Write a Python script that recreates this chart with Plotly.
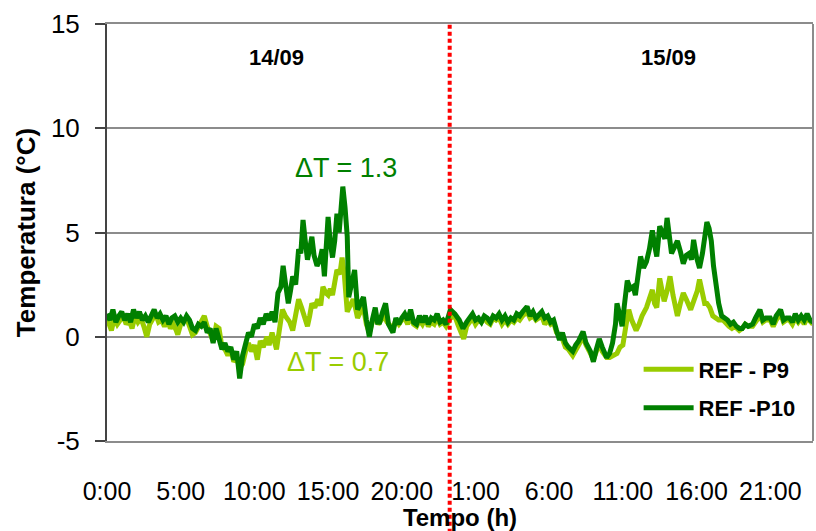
import plotly.graph_objects as go

# Temperature difference readings, two sensors, 14/09 - 15/09 (hours since 14/09 0:00)
hours_p9 = [
    0.0, 0.2, 0.3, 0.5, 0.7, 0.9, 1.1, 1.3, 1.5, 1.7, 1.9, 2.1, 2.3, 2.5, 2.7, 2.9,
    3.1, 3.3, 3.5, 3.7, 3.9, 4.1, 4.3, 4.5, 4.7, 4.8, 5.0, 5.2, 5.4, 5.6, 5.8, 6.0,
    6.2, 6.4, 6.6, 6.8, 7.0, 7.2, 7.4, 7.6, 7.8, 8.0, 8.2, 8.4, 8.6, 8.8, 9.0, 9.2,
    9.4, 9.6, 9.8, 10.0, 10.2, 10.4, 10.6, 10.85, 11.0, 11.2, 11.5, 11.7, 11.9, 12.1,
    12.4, 12.6, 12.8, 13.0, 13.2, 13.4, 13.6, 13.75, 13.9, 14.1, 14.3, 14.5, 14.65, 14.85,
    15.0, 15.15, 15.3, 15.45, 15.6, 15.8, 15.95, 16.1, 16.3, 16.5, 16.7, 16.85, 17.0, 17.2,
    17.4, 17.6, 17.8, 18.0, 18.2, 18.4, 18.6, 18.8, 19.0, 19.2, 19.4, 19.6, 19.8, 20.0,
    20.2, 20.4, 20.6, 20.8, 21.0, 21.2, 21.4, 21.6, 21.8, 22.0, 22.2, 22.4, 22.6, 22.8,
    23.0, 23.3, 23.6, 23.8, 24.0, 24.2, 24.4, 24.6, 24.8, 25.0, 25.2, 25.4, 25.6, 25.8,
    26.0, 26.2, 26.4, 26.6, 26.8, 27.0, 27.2, 27.4, 27.6, 27.8, 28.0, 28.2, 28.5, 28.7,
    28.9, 29.1, 29.3, 29.5, 29.7, 29.9, 30.1, 30.3, 30.5, 30.7, 30.9, 31.1, 31.3, 31.6,
    31.8, 32.0, 32.3, 32.5, 32.8, 33.0, 33.2, 33.4, 33.6, 33.9, 34.1, 34.3, 34.6, 34.8,
    35.0, 35.2, 35.4, 35.6, 35.9, 36.1, 36.3, 36.6, 36.8, 37.0, 37.15, 37.3, 37.5, 37.65,
    37.8, 38.0, 38.2, 38.4, 38.55, 38.7, 38.9, 39.1, 39.3, 39.6, 39.75, 39.9, 40.05, 40.2,
    40.4, 40.55, 40.7, 40.9, 41.1, 41.3, 41.5, 41.8, 42.0, 42.2, 42.4, 42.6, 42.9, 43.1,
    43.3, 43.5, 43.8, 44.0, 44.3, 44.5, 44.7, 45.0, 45.2, 45.4, 45.7, 45.9, 46.1, 46.3,
    46.5, 46.7, 46.9, 47.1, 47.3, 47.5, 47.7, 47.9,
]
temp_p9 = [
    0.9, 0.5, 0.3, 0.9, 0.6, 0.8, 1.0, 0.6, 0.8, 0.4, 1.0, 0.7, 0.9, 0.5, 0.0, 0.6,
    0.9, 1.1, 0.7, 0.8, 0.5, 0.8, 0.4, 0.6, 0.3, 0.1, 0.6, 0.8, 0.9, 0.5, 0.1, 0.2,
    0.5, 0.7, 1.0, 0.5, 0.2, -0.2, 0.5, 0.4, -0.5, -0.6, -0.9, -0.6, -1.2, -1.0, -1.5, -1.3,
    -0.7, -0.3, -0.7, -0.4, -1.1, -0.2, -0.5, 0.0, -0.4, 0.2, -0.6, 0.5, 1.3, 1.0,
    0.7, 0.3, 1.2, 1.8, 1.4, 1.0, 0.5, 1.0, 1.6, 1.4, 1.8, 1.5, 2.4, 2.1,
    2.0, 2.3, 2.0, 2.6, 3.2, 3.0, 3.8, 3.0, 1.2, 1.5, 1.8, 1.4, 0.9, 1.2,
    1.4, 0.6, 0.2, 0.7, 1.1, 0.6, 0.8, 1.0, 0.7, 0.5, 0.4, 0.8, 0.6, 0.8,
    0.9, 0.6, 1.0, 0.6, 0.5, 0.8, 0.6, 0.9, 0.5, 0.7, 0.6, 0.9, 0.6, 0.7,
    0.5, 0.9, 1.0, 0.6, 0.2, -0.1, 0.5, 0.7, 0.9, 0.6, 0.8, 0.7, 0.9, 0.7,
    0.6, 0.9, 0.8, 0.9, 0.6, 0.8, 0.6, 0.8, 0.7, 0.9, 0.8, 1.0, 1.2, 0.9,
    1.0, 0.8, 0.9, 1.0, 0.6, 0.8, 0.6, 0.7, 0.2, 0.0, -0.1, -0.5, -0.6, -0.9,
    -0.6, -0.4, 0.0, -0.4, -0.8, -1.1, -0.7, -0.3, -0.7, -1.0, -1.0, -0.9, -0.8, -0.5,
    -0.4, 0.5, 1.3, 0.8, 0.3, 0.6, 1.0, 1.4, 1.8, 2.25, 1.6, 1.4, 2.8, 2.2,
    1.7, 2.2, 2.9, 2.0, 1.5, 1.0, 1.6, 2.1, 1.8, 1.3, 1.6, 1.9, 2.2, 2.75,
    2.0, 1.6, 1.6, 1.4, 1.0, 0.9, 0.8, 0.8, 0.6, 0.5, 0.4, 0.5, 0.3, 0.4,
    0.6, 0.5, 0.5, 0.7, 1.0, 0.7, 0.8, 0.8, 0.5, 0.8, 1.1, 0.7, 0.8, 0.8,
    0.6, 0.9, 0.7, 0.9, 0.6, 0.9, 0.7, 0.6,
]

hours_p10 = [
    0.0, 0.2, 0.4, 0.6, 0.8, 1.0, 1.2, 1.4, 1.6, 1.8, 2.0, 2.2, 2.4, 2.6, 2.8, 3.0,
    3.2, 3.4, 3.6, 3.8, 4.0, 4.2, 4.4, 4.6, 4.8, 5.0, 5.2, 5.4, 5.6, 5.8, 6.0, 6.2,
    6.4, 6.6, 6.8, 7.0, 7.2, 7.4, 7.6, 7.8, 8.0, 8.2, 8.4, 8.6, 8.8, 9.0, 9.2, 9.4,
    9.6, 9.8, 10.0, 10.2, 10.4, 10.6, 10.8, 11.0, 11.2, 11.4, 11.6, 11.8, 11.95, 12.1,
    12.3, 12.45, 12.6, 12.8, 13.0, 13.15, 13.3, 13.45, 13.6, 13.75, 13.9, 14.05, 14.25, 14.45,
    14.6, 14.75, 14.9, 15.0, 15.15, 15.3, 15.45, 15.6, 15.75, 15.9, 16.0, 16.15, 16.3, 16.4,
    16.55, 16.8, 17.0, 17.2, 17.4, 17.6, 17.8, 18.0, 18.2, 18.35, 18.5, 18.7, 18.9, 19.1,
    19.4, 19.6, 19.8, 20.0, 20.2, 20.4, 20.6, 20.8, 21.0, 21.2, 21.4, 21.6, 21.8, 22.0,
    22.2, 22.4, 22.6, 22.8, 23.0, 23.3, 23.6, 23.9, 24.15, 24.4, 24.6, 24.8, 25.0, 25.2,
    25.4, 25.6, 25.8, 26.0, 26.2, 26.4, 26.6, 26.8, 27.0, 27.2, 27.4, 27.6, 27.8, 28.0,
    28.2, 28.5, 28.7, 28.9, 29.1, 29.3, 29.5, 29.7, 29.9, 30.1, 30.3, 30.5, 30.7, 30.9,
    31.1, 31.3, 31.6, 31.8, 32.0, 32.3, 32.5, 32.8, 33.0, 33.2, 33.4, 33.6, 33.9, 34.1,
    34.3, 34.5, 34.6, 34.8, 34.95, 35.1, 35.3, 35.5, 35.7, 35.85, 36.0, 36.2, 36.4, 36.6,
    36.8, 37.0, 37.15, 37.3, 37.5, 37.7, 37.85, 38.0, 38.15, 38.3, 38.5, 38.7, 38.9, 39.1,
    39.3, 39.5, 39.65, 39.8, 40.0, 40.2, 40.4, 40.55, 40.7, 40.85, 41.0, 41.15, 41.3, 41.5,
    41.7, 41.9, 42.1, 42.3, 42.5, 42.7, 42.9, 43.1, 43.3, 43.5, 43.8, 44.0, 44.3, 44.5,
    44.7, 45.0, 45.2, 45.4, 45.7, 45.9, 46.1, 46.3, 46.5, 46.7, 46.9, 47.1, 47.3, 47.5,
    47.7, 47.9,
]
temp_p10 = [
    1.1, 0.8, 1.3, 0.7, 1.0, 1.2, 0.8, 1.1, 0.7, 1.3, 0.9, 1.2, 0.8, 1.0, 0.7, 1.0,
    1.3, 0.9, 1.1, 0.8, 1.0, 0.6, 0.9, 1.0, 0.7, 0.9, 0.7, 1.0, 0.8, 0.4, 0.3, 0.6,
    0.5, 0.7, 0.2, 0.4, -0.3, 0.4, -0.2, -0.6, -0.3, -0.7, -0.5, -1.1, -0.7, -2.0, -0.9, -0.4,
    0.2, 0.0, 0.6, 0.4, 0.9, 0.6, 1.1, 0.8, 1.2, 0.7, 2.1, 2.4, 3.4, 2.6,
    1.6, 2.2, 2.9, 2.5, 4.2, 4.0, 5.6, 4.6, 3.7, 4.2, 4.8, 3.9, 3.4, 3.7,
    4.2, 2.9, 4.3, 5.75, 4.5, 3.8, 4.6, 5.9, 5.0, 6.0, 7.2, 6.2, 4.8, 1.9,
    2.4, 3.2, 1.3, 1.6, 1.9, 0.8, 0.0, 0.8, 1.4, 0.7, 0.7, 1.2, 1.6, 0.6,
    0.2, 0.9, 0.6, 0.9, 1.1, 0.8, 1.3, 0.7, 0.6, 1.0, 0.7, 1.0, 0.6, 0.9,
    0.8, 1.1, 0.7, 0.8, 0.6, 1.3, 1.1, 0.8, 0.4, 0.7, 0.9, 1.1, 0.8, 0.9,
    0.7, 1.0, 0.9, 0.7, 1.0, 0.9, 1.1, 0.8, 1.0, 0.7, 0.9, 0.8, 1.1, 1.0,
    1.2, 1.45, 1.0, 1.2, 0.9, 1.1, 1.2, 0.9, 1.0, 0.7, 0.8, 0.3, -0.15, 0.2,
    -0.3, -0.5, -0.7, -0.4, -0.2, 0.25, -0.3, -0.7, -1.2, -0.6, -0.1, -0.5, -1.0, -0.8,
    -0.3, 0.6, 1.6, 1.0, 0.5, 1.5, 2.7, 2.3, 2.4, 2.0, 3.0, 3.85, 3.3, 3.6,
    4.2, 5.1, 4.4, 3.85, 5.3, 5.0, 4.7, 5.7, 4.8, 4.0, 4.3, 4.6, 4.1, 3.5,
    3.9, 4.0, 3.7, 4.65, 3.8, 3.3, 4.0, 4.9, 5.5, 5.2, 4.6, 3.4, 2.4, 1.6,
    1.0, 0.9, 0.8, 0.6, 0.7, 0.5, 0.4, 0.4, 0.6, 0.5, 0.6, 0.9, 1.3, 0.8,
    0.9, 0.9, 0.6, 1.0, 1.3, 0.8, 0.9, 0.9, 0.7, 1.1, 0.8, 1.0, 0.8, 1.1,
    0.8, 0.7,
]

tick_hours = [0, 5, 10, 15, 20, 25, 30, 35, 40, 45]
tick_labels = ["0:00", "5:00", "10:00", "15:00", "20:00",
               "1:00", "6:00", "11:00", "16:00", "21:00"]
y_ticks = [-5, 0, 5, 10, 15]
y_tick_labels = ["-5", "0", "5", "10", "15"]
day_change_hour = 23.25
x_range = [0, 47.9]
y_range = [-5, 15]

LIGHT = "#99cc00"
DARK = "#008000"
FONT = "Liberation Sans, Arial, sans-serif"

fig = go.Figure()
fig.add_trace(go.Scatter(x=hours_p9, y=temp_p9, mode="lines", name="REF - P9",
                         legendgroup="p9",
                         line=dict(color=LIGHT, width=5), hoverinfo="skip"))
fig.add_trace(go.Scatter(x=hours_p10, y=temp_p10, mode="lines", name="REF -P10",
                         legendgroup="p10",
                         line=dict(color=DARK, width=5), hoverinfo="skip"))

axis_common = dict(range=x_range, tickvals=tick_hours, showgrid=False, zeroline=False,
                   automargin=False)

fig.update_layout(
    width=816, height=531,
    margin=dict(l=107, r=3, t=24, b=90),
    paper_bgcolor="white", plot_bgcolor="white",
    showlegend=True,
    legend=dict(x=0.753, y=0.222, xanchor="left", yanchor="top",
                bgcolor="rgba(255,255,255,0)",
                font=dict(family=FONT, size=22, color="black", weight="bold"),
                itemwidth=50, tracegroupgap=7),
    xaxis=dict(**axis_common, ticktext=tick_labels, ticks="", tickangle=0,
               showline=True, linecolor="#8c8c8c", linewidth=2, mirror=True,
               tickfont=dict(family=FONT, size=25, color="black"),
               ticklabelstandoff=27,
               title=dict(text="Tempo (h)", standoff=3,
                          font=dict(family=FONT, size=24, color="black", weight="bold"))),
    xaxis2=dict(**axis_common, overlaying="x", anchor="free", position=0.25,
                showticklabels=False, ticks="outside", ticklen=10, tickwidth=1.5,
                tickcolor="#555555", showline=True, linecolor="#6e6e6e", linewidth=2),
    xaxis3=dict(**axis_common, overlaying="x", anchor="free", position=0.25,
                showticklabels=False, ticks="inside", ticklen=10, tickwidth=1.5,
                tickcolor="#555555", showline=False),
    yaxis=dict(range=y_range, tickvals=y_ticks, ticktext=y_tick_labels,
               ticks="outside", ticklen=10, automargin=False,
               tickwidth=1.5, tickcolor="#444444",
               showline=True, linecolor="#444444", linewidth=2,
               showgrid=True, gridcolor="#8c8c8c", gridwidth=1.5, zeroline=False,
               tickfont=dict(family=FONT, size=26, color="black"),
               ticklabelstandoff=10,
               title=dict(text="Temperatura (°C)", standoff=8,
                          font=dict(family=FONT, size=26, color="black", weight="bold"))),
)

# right frame edge
fig.add_shape(type="line", xref="paper", yref="paper", x0=1, x1=1, y0=0, y1=1,
              line=dict(color="#8c8c8c", width=2))

# day boundary
fig.add_shape(type="line", xref="x", yref="paper", x0=day_change_hour, x1=day_change_hour,
              y0=-0.22, y1=1, layer="above",
              line=dict(color="#ff0000", width=4, dash="4px,3px"))

fig.add_annotation(x=11.5, y=13.4, text="<b>14/09</b>", showarrow=False,
                   font=dict(family=FONT, size=22, color="black"))
fig.add_annotation(x=38.1, y=13.4, text="<b>15/09</b>", showarrow=False,
                   font=dict(family=FONT, size=22, color="black"))
fig.add_annotation(x=16.2, y=8.1, text="ΔT = 1.3", showarrow=False,
                   font=dict(family=FONT, size=27, color=DARK))
fig.add_annotation(x=15.65, y=-1.2, text="ΔT = 0.7", showarrow=False,
                   font=dict(family=FONT, size=27, color=LIGHT))

fig.write_html("out.html")
